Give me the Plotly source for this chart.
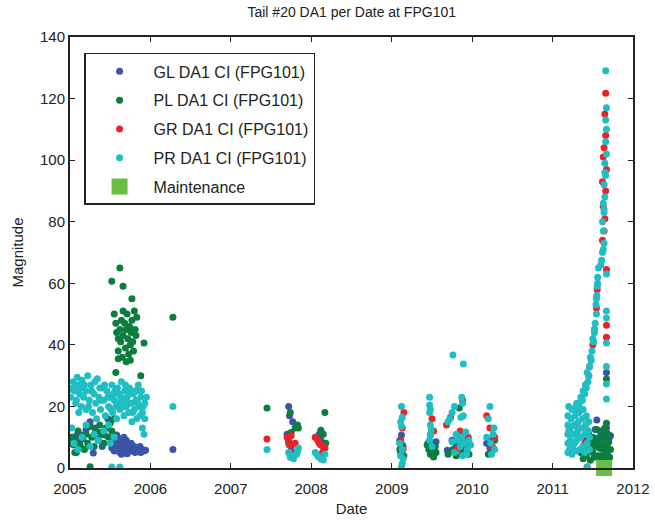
import pandas as pd
import plotly.graph_objects as go

# ---------------- data (decimal year, magnitude) ----------------
GL_YEAR = [2005.03, 2005.08, 2005.12, 2005.15, 2005.2, 2005.25, 2005.29, 2005.31, 2005.35, 2005.38,
           2005.43, 2005.47, 2005.5, 2005.45, 2005.4,
           2005.52, 2005.53, 2005.54, 2005.55, 2005.57, 2005.58, 2005.6, 2005.6, 2005.62, 2005.63,
           2005.65, 2005.66, 2005.68, 2005.69, 2005.7, 2005.72, 2005.73, 2005.75, 2005.76, 2005.78,
           2005.8, 2005.81, 2005.83, 2005.85, 2005.87, 2005.88, 2005.9, 2005.92, 2005.94, 2005.67,
           2005.71, 2005.64, 2006.28,
           2007.72, 2007.73, 2007.77, 2007.7, 2007.72, 2007.75, 2008.12, 2008.15, 2008.1,
           2009.12, 2009.1, 2009.14, 2009.11,
           2009.45, 2009.48, 2009.52, 2009.55,
           2009.69, 2009.75, 2009.8, 2009.85, 2009.9, 2009.95,
           2010.18, 2010.22, 2010.25,
           2011.55, 2011.67, 2011.6, 2011.4, 2011.45, 2011.5, 2011.58, 2011.62, 2011.65, 2011.7,
           2011.38, 2011.48, 2011.53, 2011.68, 2011.72, 2011.42, 2011.67]
GL_VAL = [8.5, 10.5, 8.4, 10.7, 12.5, 15, 4.9, 13, 9.5, 11.5,
          10.7, 16, 14.6, 13, 7,
          6.5, 8, 9.5, 5.5, 7, 10.7, 6, 8.5, 5, 9.5,
          7, 5.5, 8, 6, 9, 5, 7, 6, 8, 5.5,
          7, 5, 6.5, 5.5, 7, 5, 6, 5.5, 5.8, 10,
          4.6, 4.5, 6,
          20, 17, 15, 11, 8, 7, 9, 7, 11,
          10.7, 8, 7, 5,
          8, 7, 6.5, 8.5,
          5.8, 9, 7, 8, 6, 9.5,
          8, 6.5, 9,
          15.6, 13, 12, 10, 11, 9, 10, 8, 11, 9.5,
          7, 6, 12.5, 7, 10.5, 8.5, 31]

PL_YEAR = [2005.01, 2005.02, 2005.04, 2005.06, 2005.08, 2005.1, 2005.13, 2005.16, 2005.18, 2005.2,
           2005.22, 2005.25, 2005.25, 2005.27, 2005.3, 2005.32, 2005.35, 2005.37, 2005.4, 2005.42,
           2005.45, 2005.48, 2005.5, 2005.52, 2005.55, 2005.08,
           2005.55, 2005.57, 2005.58, 2005.6, 2005.6, 2005.62, 2005.63, 2005.64, 2005.65, 2005.66,
           2005.68, 2005.69, 2005.7, 2005.71, 2005.72, 2005.73, 2005.74, 2005.75, 2005.76, 2005.77,
           2005.78, 2005.79, 2005.8, 2005.81, 2005.82, 2005.83, 2005.6, 2005.7, 2005.75, 2005.66,
           2005.62, 2005.52, 2005.66, 2005.77, 2005.92, 2005.57, 2005.88, 2005.82, 2006.28,
           2007.45, 2007.74, 2007.8, 2007.83, 2007.84, 2007.75, 2007.72, 2008.17, 2008.12, 2008.15, 2008.18,
           2009.1, 2009.12, 2009.15, 2009.13, 2009.1,
           2009.44, 2009.46, 2009.48, 2009.5, 2009.52, 2009.54, 2009.55, 2009.47, 2009.53,
           2009.7, 2009.76, 2009.8, 2009.84, 2009.88, 2009.92, 2009.96, 2009.85,
           2010.2, 2010.25, 2010.28,
           2011.35, 2011.38, 2011.4, 2011.42, 2011.45, 2011.47, 2011.5, 2011.52, 2011.55, 2011.57,
           2011.58, 2011.6, 2011.62, 2011.63, 2011.65, 2011.66, 2011.67, 2011.68, 2011.7, 2011.71,
           2011.72, 2011.6, 2011.55, 2011.65, 2011.67, 2011.67, 2011.5, 2011.62, 2011.69, 2011.58,
           2011.53, 2011.44, 2011.48]
PL_VAL = [8, 10, 7.5, 5, 9, 12, 7, 9.5, 6, 11,
          8, 13.5, 0.4, 10, 7, 12, 9, 14, 11, 8,
          13, 10, 15, 12, 16, 5,
          50, 47, 44, 42, 38, 45, 41, 48, 36, 43,
          47, 39, 45, 50, 42, 37, 46, 40, 44, 48,
          41, 38, 51, 45, 43, 49, 35.5, 34.5, 35, 51,
          65, 60.7, 59, 55, 40.6, 31, 30, 25, 49,
          19.5, 18, 13, 14, 13, 11.5, 9, 18, 12.3, 11, 8,
          6, 5, 4, 7.5, 9,
          7.5, 6, 4.5, 5.5, 3.6, 7, 5, 8, 6.5,
          4.5, 6, 4, 19.5, 5, 7, 4.5, 9,
          4.5, 6, 9,
          5, 3, 6, 4, 8, 2.5, 5, 3.5, 7, 4,
          9, 2.5, 6, 4, 10, 3, 7, 5, 8.5, 3.5,
          6, 11.5, 12.5, 13, 14.5, 28.9, 10, 8, 11, 6.5,
          8, 10.5, 7]

GR_YEAR = [2007.45, 2007.7, 2007.72, 2007.75, 2007.73, 2007.8, 2007.78,
           2008.05, 2008.08, 2008.1, 2008.12, 2008.15, 2008.17, 2008.14,
           2009.15, 2009.13, 2009.11, 2009.14,
           2009.48, 2009.5, 2009.52,
           2009.73, 2009.68, 2009.88, 2009.85, 2009.9, 2009.95, 2009.8,
           2010.18, 2010.22, 2010.28, 2010.25,
           2011.66, 2011.65, 2011.66, 2011.64, 2011.63, 2011.67, 2011.62, 2011.66, 2011.63, 2011.65,
           2011.64, 2011.62, 2011.67, 2011.67, 2011.67, 2011.555, 2011.545, 2011.52, 2011.5, 2011.46,
           2011.41, 2011.36, 2011.3, 2011.28, 2011.35, 2011.4, 2011.44, 2011.43, 2011.45]
GR_VAL = [9.4, 10, 9.5, 10.5, 7.5, 8, 5,
          10, 9, 8, 7.5, 7, 6.5, 5,
          18, 13, 9, 6,
          10.7, 16, 12,
          16.5, 14, 22, 12, 8, 10, 6,
          17, 13, 10, 7,
          121.7, 115, 108, 104, 101, 97, 93, 90, 85, 81,
          77, 74, 64.5, 46.4, 42.5, 58, 52, 45, 40, 33,
          27, 22, 18, 14, 10, 8, 12, 0.3, 30]

PR_YEAR = [2005.0, 2005.03, 2005.06, 2005.08, 2005.1, 2005.12, 2005.14, 2005.15, 2005.17, 2005.2,
           2005.2, 2005.22, 2005.24, 2005.26, 2005.28, 2005.3, 2005.32, 2005.34, 2005.36, 2005.38,
           2005.4, 2005.42, 2005.44, 2005.46, 2005.48, 2005.5, 2005.52, 2005.53, 2005.55, 2005.56,
           2005.58, 2005.6, 2005.61, 2005.62, 2005.64, 2005.65, 2005.67, 2005.68, 2005.7, 2005.71,
           2005.73, 2005.74, 2005.76, 2005.77, 2005.79, 2005.8, 2005.82, 2005.83, 2005.85, 2005.86,
           2005.88, 2005.9, 2005.9, 2005.92, 2005.93,
           2005.01, 2005.04, 2005.07, 2005.09, 2005.11, 2005.13, 2005.18, 2005.23, 2005.27, 2005.31,
           2005.33, 2005.37, 2005.39, 2005.43, 2005.47, 2005.51, 2005.54, 2005.57, 2005.59, 2005.63,
           2005.66, 2005.69, 2005.72, 2005.75, 2005.78, 2005.81, 2005.84, 2005.87, 2005.89, 2005.91,
           2005.93, 2005.95,
           2005.02, 2005.05, 2005.1, 2005.15, 2005.2, 2005.25, 2005.3, 2005.35, 2005.42, 2005.48,
           2005.5, 2005.55, 2005.52, 2005.62, 2006.28,
           2007.45, 2007.72, 2007.74, 2007.76, 2007.78, 2007.83, 2007.84, 2007.82,
           2008.05, 2008.08, 2008.1, 2008.12, 2008.15, 2008.17,
           2009.12, 2009.13, 2009.11, 2009.12, 2009.1, 2009.13, 2009.11, 2009.14, 2009.12, 2009.13,
           2009.47, 2009.47, 2009.48, 2009.47, 2009.48, 2009.49, 2009.48, 2009.5, 2009.47,
           2009.76, 2009.89, 2009.7, 2009.72, 2009.75, 2009.78, 2009.87, 2009.88, 2009.86, 2009.89,
           2009.8, 2009.82, 2009.85, 2009.87, 2009.9, 2009.92, 2009.94, 2009.96, 2009.98, 2009.75,
           2009.78, 2009.88, 2009.93,
           2010.22, 2010.2, 2010.18, 2010.23, 2010.26, 2010.28, 2010.24, 2010.27,
           # 2011 spine
           2011.66, 2011.67, 2011.66, 2011.67, 2011.66, 2011.67, 2011.65, 2011.66, 2011.64, 2011.65,
           2011.63, 2011.64, 2011.62, 2011.63, 2011.64, 2011.62, 2011.61,
           2011.57, 2011.56, 2011.555, 2011.55, 2011.54, 2011.545, 2011.53, 2011.52, 2011.51, 2011.49,
           2011.48, 2011.46, 2011.45, 2011.44, 2011.42, 2011.40, 2011.37, 2011.33, 2011.30,
           2011.65, 2011.64, 2011.63, 2011.60, 2011.56, 2011.545, 2011.52, 2011.50, 2011.47, 2011.43,
           2011.41, 2011.38, 2011.35, 2011.30,
           # 2011 lower mass
           2011.19, 2011.19, 2011.19, 2011.19, 2011.19, 2011.20, 2011.21, 2011.22, 2011.22, 2011.23,
           2011.24, 2011.24, 2011.25, 2011.26, 2011.27, 2011.28, 2011.29, 2011.29, 2011.30, 2011.31,
           2011.32, 2011.33, 2011.34, 2011.35, 2011.36, 2011.37, 2011.38, 2011.38, 2011.40, 2011.41,
           2011.42, 2011.43, 2011.44, 2011.45, 2011.46, 2011.46, 2011.20, 2011.27, 2011.33, 2011.40,
           # 2011 side points
           2011.67, 2011.67, 2011.67, 2011.67, 2011.67, 2011.67, 2011.67, 2011.43]
PR_VAL = [25.5, 26, 25, 22, 27, 24, 20, 28.5, 23, 25,
          19, 30, 22, 27, 18, 24, 21, 29, 23, 19,
          26, 22, 17, 25, 20, 23, 27, 18, 22, 25,
          16, 21, 24, 19, 28, 22, 17, 25, 20, 23,
          18, 26, 21, 15, 24, 19, 22, 16, 27, 20,
          23, 18, 13, 11, 21,
          23, 28, 21, 29.5, 18, 26, 27, 20, 25, 28,
          16, 26, 22, 27, 23, 19, 24, 20, 26, 23,
          20, 27, 21, 24, 18, 25, 21, 17, 25, 20,
          16, 23,
          13, 8, 6, 10, 14, 7, 11, 9, 12, 14,
          8, 10, 0.3, 0.3, 20,
          6, 5, 3.5, 4, 3, 5.5, 6.5, 4.5,
          5, 4, 3.5, 3, 2.6, 4.5,
          20, 16.5, 15, 13.5, 8, 6, 4, 3, 0.3, 1.5,
          23, 20.5, 19, 18, 14, 12.5, 11, 7, 9,
          36.7, 33.8, 15, 16, 18, 20, 23, 21, 16.5, 17,
          11, 9, 7, 10, 8, 11.7, 6, 9, 7.5, 8.5,
          5, 4, 4.5,
          20, 16, 10, 8, 11, 6, 4.5, 13,
          129, 117, 113, 110, 106, 102, 99, 95, 92, 88,
          86, 83, 80, 77, 73, 70, 67.5,
          65, 62, 59, 56, 53, 50, 47, 44, 41, 38,
          35, 33, 30, 28, 26, 24, 22, 20, 18,
          96, 84, 71, 66, 60, 55, 45, 42, 36, 31,
          27, 25, 23, 21,
          5, 8, 11, 14, 17, 20, 6, 9, 13, 16,
          19, 4.5, 7, 11, 14, 17, 20, 5.5, 9, 12,
          15, 18, 6, 10, 13, 16, 19, 7, 11, 14,
          17, 8, 12, 15, 6, 10, 12, 8, 10, 5,
          63, 51, 48.7, 40.6, 33, 27.3, 22.4, 0.3]

MAINT_YEAR = [2011.64]
MAINT_VAL = [0]

SERIES = ["GL DA1 CI (FPG101)", "PL DA1 CI (FPG101)", "GR DA1 CI (FPG101)", "PR DA1 CI (FPG101)"]
COLORS = ["#3a55a5", "#0b7d3e", "#ed2227", "#1fbec3"]


def to_dates(years):
    out = []
    for y in years:
        yi = int(y)
        start = pd.Timestamp(year=yi, month=1, day=1)
        end = pd.Timestamp(year=yi + 1, month=1, day=1)
        out.append(start + (end - start) * (y - yi))
    return out


FONT = "Liberation Sans Narrow, Arial Narrow, Liberation Sans, Arial, sans-serif"
INK = "#222"

fig = go.Figure()
for i, (name, xs, ys) in enumerate(zip(SERIES, [GL_YEAR, PL_YEAR, GR_YEAR, PR_YEAR],
                                       [GL_VAL, PL_VAL, GR_VAL, PR_VAL])):
    fig.add_trace(go.Scatter(
        x=to_dates(xs), y=ys, mode="markers", name=name,
        legendgroup=str(i),
        marker=dict(color=COLORS[i], size=7, line=dict(width=0)),
    ))
fig.add_trace(go.Scatter(
    x=to_dates(MAINT_YEAR), y=MAINT_VAL, mode="markers", name="Maintenance",
    legendgroup="m", cliponaxis=False,
    marker=dict(color="#6abd45", size=16, symbol="square", line=dict(width=0)),
))

fig.update_layout(
    width=655, height=525,
    margin=dict(l=70, r=22, t=37, b=57, autoexpand=False),
    paper_bgcolor="white", plot_bgcolor="white",
    font=dict(family=FONT, size=14, color=INK),
    title=dict(text="Tail #20 DA1 per Date at FPG101", x=0.537, xanchor="center",
               y=0.977, yanchor="middle", font=dict(size=14, family=FONT, color=INK)),
    showlegend=True,
    legend=dict(x=0.025, y=0.963, xanchor="left", yanchor="top",
                bordercolor=INK, borderwidth=1.5, bgcolor="white",
                font=dict(size=16, family=FONT, color=INK),
                tracegroupgap=5, itemsizing="trace", itemwidth=58),
)
fig.update_xaxes(
    type="date", range=["2005-01-01", "2012-01-01"], tickformat="%Y",
    dtick="M12", tick0="2005-01-01", automargin=False,
    showgrid=False, zeroline=False, showline=True, linecolor=INK, linewidth=2,
    mirror="ticks", ticks="inside", ticklen=5, tickcolor=INK, tickwidth=1,
    ticklabelstandoff=6,
    tickfont=dict(size=15, family=FONT, color=INK),
    title=dict(text="Date", font=dict(size=15, family=FONT, color=INK), standoff=7),
)
fig.update_yaxes(
    range=[0, 140], dtick=20, automargin=False,
    showgrid=False, zeroline=False, showline=True, linecolor=INK, linewidth=2,
    mirror="ticks", ticks="inside", ticklen=5, tickcolor=INK, tickwidth=1,
    tickfont=dict(size=15, family=FONT, color=INK),
    title=dict(text="Magnitude", font=dict(size=15, family=FONT, color=INK), standoff=13),
)

fig.write_html("out.html", config={"displayModeBar": False},
               post_script="document.body.style.margin='0';")
